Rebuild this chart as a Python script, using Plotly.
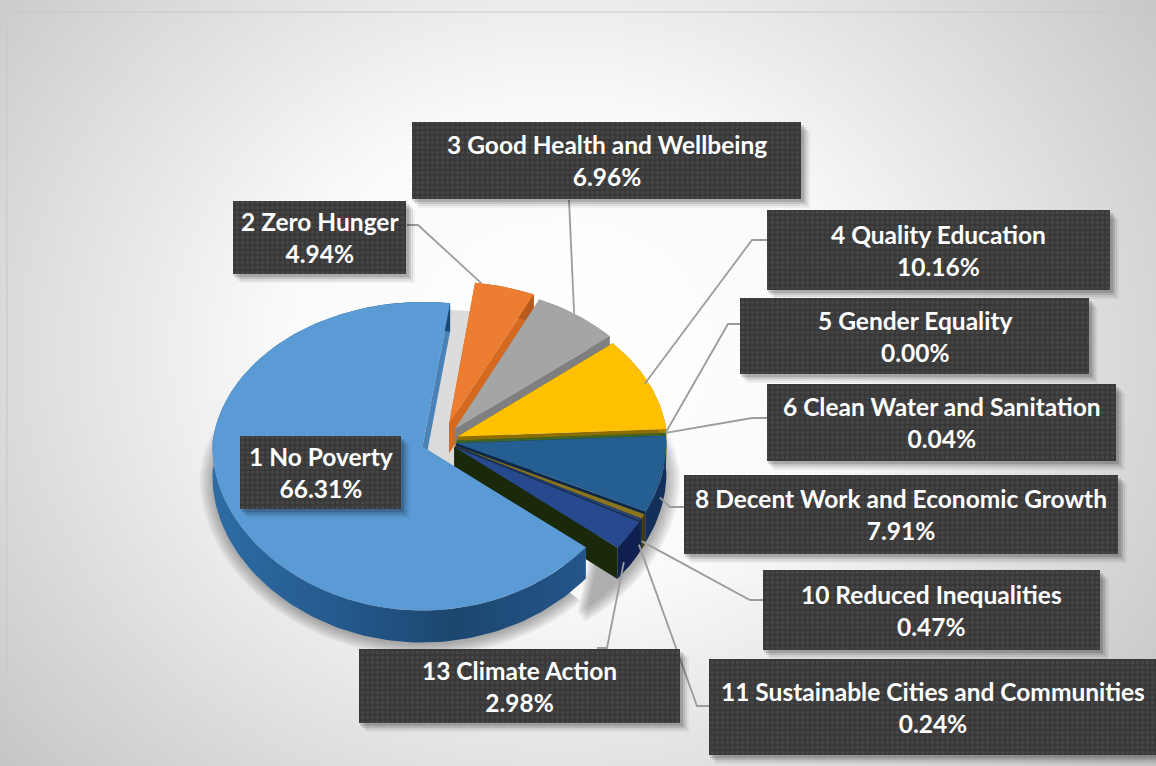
import math
import plotly.graph_objects as go

# --- data ---
categories = ["1 No Poverty", "2 Zero Hunger", "3 Good Health and Wellbeing", "4 Quality Education",
              "5 Gender Equality", "6 Clean Water and Sanitation", "8 Decent Work and Economic Growth",
              "10 Reduced Inequalities", "11 Sustainable Cities and Communities", "13 Climate Action"]
values = [66.31, 4.94, 6.96, 10.16, 0.00, 0.04, 7.91, 0.47, 0.24, 2.98]

# --- styling ---
top_colors = ["#5B9BD5", "#ED7D31", "#A5A5A5", "#FFC000", "#4472C4", "#4F7A32", "#255E91", "#8A7420", "#264478", "#274A8E"]
cut_colors = ["#4A82B8", "#D4691F", "#7F7F7F", "#8F6C00", "#2F5597", "#3F6426", "#0C2747", "#5E4E10", "#172C50", "#1B290B"]
rim_colors = ["#1F4E79", "#B85A1C", "#808080", "#A88000", "#2F5597", "#43682B", "#12305A", "#4A3D0C", "#14264A", "#0F2050"]
pulls = [0.10, 0.12, 0.10, 0.08, 0.07, 0.07, 0.07, 0.07, 0.07, 0.07]
START_ANGLE = 129.0
X0, Y0, R, RC, PERSP, DEPTH = 442.0, 441.0, 210.0, 153.0, 0.062, 30.0

boxes = [(240, 436, 401, 509), (233, 201, 406, 274), (412, 122, 801, 199), (767, 210, 1110, 290),
         (740, 298, 1089, 374), (767, 384, 1116, 461), (684, 475, 1118, 554), (763, 570, 1100, 650),
         (709, 659, 1156, 755), (359, 649, 680, 723)]
# leader line: box point, elbow point, radial factor and angle shift of the end on the slice
leaders = [None,
           ((407, 225), (418, 225), 1.0, -7),
           ((569, 200), (569, 200), 1.0, -1),
           ((767, 240), (752, 240), 0.98, 0),
           ((740, 324), (728, 324), 1.0, 0),
           ((767, 418), (752, 418), 1.0, 0),
           ((685, 507), (670, 507), 1.0, 3),
           ((763, 600), (750, 600), 1.02, 3),
           ((709, 706), (697, 706), 1.02, 3),
           ((597, 648), (607, 648), 1.02, 4)]


def project(u, v, z=0.0):
    s = 1.0 / (1.0 - PERSP * v)
    return X0 + R * u * min(1.0, s), Y0 + (RC * v + DEPTH * z) * s


def disc(angle):
    a = math.radians(angle)
    return math.sin(a), -math.cos(a)


def arc(a0, a1, n=None):
    n = n or max(2, int(abs(a1 - a0) / 1.5) + 2)
    return [a0 + (a1 - a0) * i / (n - 1) for i in range(n)]


def poly(points, color=None, **kw):
    xs = [p[0] for p in points] + [points[0][0]]
    ys = [p[1] for p in points] + [points[0][1]]
    args = dict(x=xs, y=ys, mode="lines", line=dict(width=0), fill="toself", hoverinfo="skip", showlegend=False)
    if color:
        args["fillcolor"] = color
    args.update(kw)
    return go.Scatter(**args)


fig = go.Figure()

# background panel with its soft radial light
fig.add_trace(poly([(-370, -450), (1490, -450), (1490, 1150), (-370, 1150)],
                   fillgradient=dict(type="radial",
                                     colorscale=[[0, "#FFFFFF"], [0.3, "#FAFAFA"], [1, "#B0B0B0"]])))

# slice geometry from the values
total = sum(values)
angle = START_ANGLE
slices = []
for val, pull in zip(values, pulls):
    span = val / total * 360.0
    mid = angle + span / 2.0
    du, dv = disc(mid)
    slices.append(dict(a0=angle, a1=angle + span, mid=mid, cu=pull * du, cv=pull * dv))
    angle += span

# soft shadow under the pie, only round the outer edges
pts = []
for a in arc(0, 360, 120):
    u, v = disc(a)
    pts.append(project(0.82 * u, 0.95 * v - 0.02, 0.3))
fig.add_trace(poly(pts, "rgba(50,50,50,0.16)"))
for centre_u, a0, a1 in ((-0.09, 135, 320), (0.07, 55, 145)):
    for k in range(9):
        grow = 1.0 + 0.008 * k
        pts = []
        for a in arc(a0, a1, 70):
            u, v = disc(a)
            pts.append(project(grow * u + centre_u, grow * v + 0.05, 1.0))
        fig.add_trace(poly(pts, "rgba(50,50,50,0.05)"))

# draw back to front: right-hand slices in order, the big slice last
for i in list(range(1, len(values))) + [0]:
    s = slices[i]
    if values[i] <= 0:
        continue
    cu, cv = s["cu"], s["cv"]
    angles = arc(s["a0"], s["a1"])
    rim = [(cu + disc(a)[0], cv + disc(a)[1]) for a in angles]
    centre = (cu, cv)
    # cut faces
    for edge in (rim[0], rim[-1]):
        fig.add_trace(poly([project(*centre), project(*edge), project(*edge, 1), project(*centre, 1)], cut_colors[i]))
    # outer wall
    wall = [project(*p) for p in rim] + [project(*p, 1) for p in reversed(rim)]
    if i == 0:
        fig.add_trace(poly(wall, fillgradient=dict(type="horizontal",
                      colorscale=[[0, "#2E6CA6"], [0.35, "#24598C"], [0.65, "#1C466F"], [1, "#24568A"]])))
    else:
        fig.add_trace(poly(wall, rim_colors[i]))
    # top face
    fig.add_trace(poly([project(*centre)] + [project(*p) for p in rim], top_colors[i]))

# leader lines
for i, lead in enumerate(leaders):
    if not lead:
        continue
    s = slices[i]
    start, elbow, factor, shift = lead
    u, v = disc(s["mid"] + shift)
    z = 0.0 if i < 6 else 0.5
    end = project(s["cu"] + factor * u, s["cv"] + factor * v, z)
    fig.add_trace(go.Scatter(x=[start[0], elbow[0], end[0]], y=[start[1], elbow[1], end[1]], mode="lines",
                             line=dict(color="#9C9C9C", width=1.8), hoverinfo="skip", showlegend=False))

# data labels: shadow, dotted box, text
annotations = []
for cat, val, (x0, y0, x1, y1) in zip(categories, values, boxes):
    for off, alpha in [(9, 0.05), (7, 0.07), (5, 0.10), (3, 0.14)]:
        fig.add_trace(poly([(x0 + off - 2, y0 + off), (x1 + off, y0 + off), (x1 + off, y1 + off), (x0 + off - 2, y1 + off)],
                           f"rgba(0,0,0,{alpha})"))
    fig.add_trace(poly([(x0, y0), (x1, y0), (x1, y1), (x0, y1)],
                       fillpattern=dict(shape=".", fgcolor="#464646", bgcolor="#383838", size=5, solidity=0.4,
                                        fillmode="replace")))
    annotations.append(dict(x=(x0 + x1) / 2, y=(y0 + y1) / 2, xref="x", yref="y", showarrow=False,
                            text=f"<b>{cat}<br>{val:.2f}%</b>",
                            font=dict(family="Lato", size=24.5, color="#FFFFFF"), align="center"))

# white page round the panel
for rect in [(0, 0, 7, 766), (0, 0, 1156, 12)]:
    x0, y0, x1, y1 = rect
    fig.add_shape(type="rect", x0=x0, y0=y0, x1=x1, y1=y1, fillcolor="#FFFFFF", line_width=0, layer="between")
fig.add_shape(type="line", x0=7, y0=12, x1=1156, y1=12, line=dict(color="#C8C8C8", width=1))
fig.add_shape(type="line", x0=7, y0=12, x1=7, y1=766, line=dict(color="#C8C8C8", width=1))

fig.update_layout(width=1156, height=766, margin=dict(l=0, r=0, t=0, b=0), paper_bgcolor="#FFFFFF",
                  plot_bgcolor="#FFFFFF", annotations=annotations, showlegend=False,
                  xaxis=dict(range=[0, 1156], visible=False, fixedrange=True),
                  yaxis=dict(range=[766, 0], visible=False, fixedrange=True))
fig.write_html("out.html", config=dict(displayModeBar=False), post_script="document.body.style.margin='0';")
